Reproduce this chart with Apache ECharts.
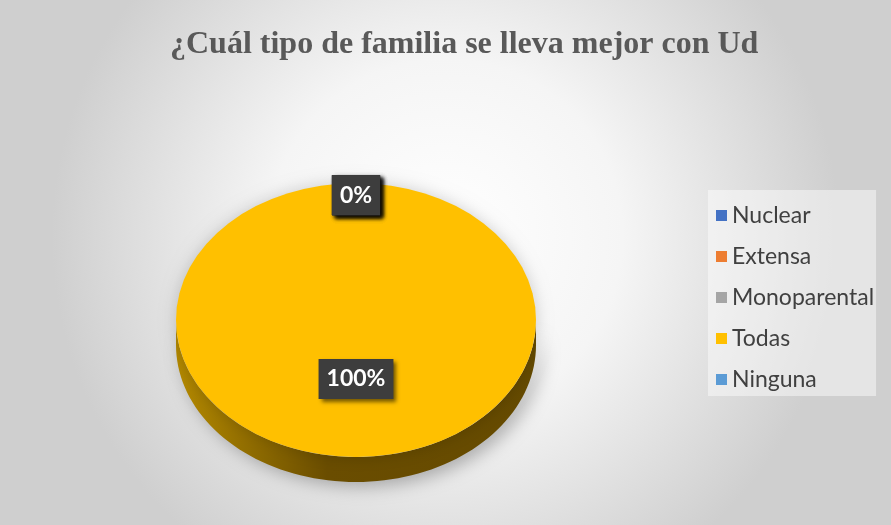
<!DOCTYPE html>
<html>
<head>
<meta charset="utf-8">
<script src="https://cdn.jsdelivr.net/npm/echarts@6/dist/echarts.min.js"></script>
<style>
  html, body { margin: 0; padding: 0; background: #fff; }
  #main { width: 891px; height: 525px; }
</style>
</head>
<body>
<div id="main"></div>
<script>
var categories = ['Nuclear', 'Extensa', 'Monoparental', 'Todas', 'Ninguna'];
var values = [0, 0, 0, 100, 0];
var colors = ['#4472C4', '#ED7D31', '#A5A5A5', '#FFC000', '#5B9BD5'];

var total = values.reduce(function (a, b) { return a + b; }, 0);
// pie geometry (ellipse, excel-like 3d tilt)
var cx = 356, cy = 320, rx = 180, ry = 137, depth = 25;

function startOf(i) {
    var s = 0;
    for (var k = 0; k < i; k++) s += values[k];
    return -Math.PI / 2 + 2 * Math.PI * s / total;
}

function renderSlice(idx) {
    return function (params, api) {
        var v = api.value(0);
        var a0 = startOf(idx);
        var a1 = a0 + 2 * Math.PI * v / total;
        var children = [];
        if (v > 0) {
            // side band of the front half
            var s = Math.max(a0, 0), e = Math.min(a1, Math.PI);
            if (s < e) {
                var pts = [], n = 80, t;
                for (var j = 0; j <= n; j++) {
                    t = s + (e - s) * j / n;
                    pts.push([cx + rx * Math.cos(t), cy + ry * Math.sin(t)]);
                }
                for (j = n; j >= 0; j--) {
                    t = s + (e - s) * j / n;
                    pts.push([cx + rx * Math.cos(t), cy + depth + ry * Math.sin(t)]);
                }
                children.push({
                    type: 'polygon', z2: 1,
                    shape: { points: pts },
                    style: {
                        fill: new echarts.graphic.LinearGradient(0, 0, 1, 0, [
                            { offset: 0, color: '#b58a00' },
                            { offset: 0.42, color: '#6a4d00' },
                            { offset: 1, color: '#654a00' }
                        ]),
                        shadowBlur: 18, shadowColor: 'rgba(0,0,0,0.3)', shadowOffsetX: 6, shadowOffsetY: 4
                    }
                });
            }
            children.push({
                type: 'group', x: cx, y: cy, scaleY: ry / rx,
                children: [{
                    type: 'sector', z2: 2,
                    shape: { cx: 0, cy: 0, r: rx, r0: 0, startAngle: a0, endAngle: a1 },
                    style: {
                        fill: api.visual('color'),
                        shadowBlur: 16, shadowColor: 'rgba(0,0,0,0.18)', shadowOffsetX: 0, shadowOffsetY: 0
                    }
                }]
            });
        }
        var mid = (a0 + a1) / 2;
        var f = v > 0 ? 0.43 : 0.91;
        children.push({
            type: 'text', z2: 10,
            x: cx + f * rx * Math.cos(mid),
            y: cy + f * ry * Math.sin(mid),
            style: {
                text: Math.round(v / total * 100) + '%',
                fill: '#ffffff',
                font: 'bold 23px Lato, sans-serif',
                align: 'center', verticalAlign: 'middle',
                backgroundColor: '#3d3d3d',
                padding: [9, 8, 8, 8],
                shadowBlur: 4, shadowColor: 'rgba(0,0,0,0.55)', shadowOffsetX: 3, shadowOffsetY: 3
            }
        });
        return { type: 'group', children: children };
    };
}

var series = categories.map(function (name, i) {
    return {
        name: name,
        type: 'custom',
        coordinateSystem: 'none',
        itemStyle: { color: colors[i] },
        data: [[values[i]]],
        renderItem: renderSlice(i)
    };
});

var myChart = echarts.init(document.getElementById('main'));
myChart.setOption({
    animation: false,
    backgroundColor: new echarts.graphic.RadialGradient(0.5, 0.45, 0.75, [
        { offset: 0, color: '#ffffff' },
        { offset: 0.45, color: '#f5f5f5' },
        { offset: 1, color: '#cfcfcf' }
    ]),
    title: {
        text: '¿Cuál tipo de familia se lleva mejor con Ud',
        left: 165,
        top: 24,
        textStyle: {
            fontFamily: 'Liberation Serif',
            fontWeight: 'bold',
            fontSize: 32,
            color: '#595959'
        }
    },
    legend: {
        data: categories,
        orient: 'vertical',
        left: 708,
        top: 190,
        icon: 'rect',
        itemWidth: 11,
        itemHeight: 11,
        itemGap: 18,
        padding: [14, 2, 5, 8],
        backgroundColor: 'rgba(255,255,255,0.45)',
        textStyle: { fontFamily: 'Lato', fontSize: 23, color: '#404040' }
    },
    series: series
});
</script>
</body>
</html>
